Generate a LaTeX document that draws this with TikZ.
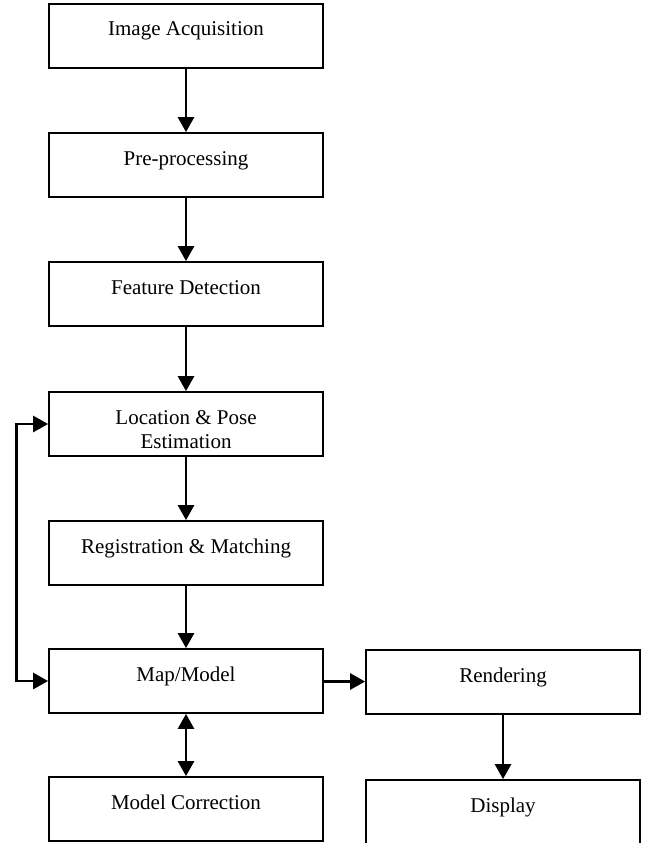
\documentclass[tikz,border=0pt]{standalone}
\usepackage{fontspec}
\setmainfont{Liberation Serif}
\usetikzlibrary{arrows.meta}
\begin{document}
\begin{tikzpicture}[x=1pt, y=-1pt]
      \tikzstyle{stage}=[draw, line width=1.8pt, minimum width=274pt, minimum height=64pt,
        inner ysep=0pt, text height=32pt, text depth=32pt, align=center,
        font=\fontsize{21}{24}\selectfont]
      \tikzstyle{flow}=[line width=2.8pt, -{Triangle[length=15pt, width=16pt]}]
      \useasboundingbox (0,0) rectangle (648,843);

      \path (186, 36) node[stage] (acq) {Image Acquisition};
      \path (186, 165) node[stage] (pre) {Pre-processing};
      \path (186, 294) node[stage] (feat) {Feature Detection};
      \path (186, 424) node[stage, text height=56pt, text depth=8pt] (loc) {Location \& Pose\\Estimation};
      \path (186, 553) node[stage] (reg) {Registration \& Matching};
      \path (186, 681) node[stage] (map) {Map/Model};
      \path (186, 809) node[stage] (corr) {Model Correction};
      \path (503, 682) node[stage] (rend) {Rendering};
      \path (503, 820) node[stage, minimum height=80pt, text depth=48pt] (disp) {Display};

      \foreach \a/\b in {acq/pre, pre/feat, feat/loc, loc/reg, reg/map}
      {
        \draw [flow] (\a) -- (\b);
      }

      \draw [flow] (map) -- (rend);
      \draw [flow] (rend) -- (disp);
      \draw [flow, {Triangle[length=15pt, width=16pt]}-{Triangle[length=15pt, width=16pt]}]
        (map) -- (corr);
      \draw [flow, {Triangle[length=15pt, width=16pt]}-{Triangle[length=15pt, width=16pt]}]
        (map.west) -- ++(-32,0) |- (loc.west);
    \end{tikzpicture}
\end{document}
